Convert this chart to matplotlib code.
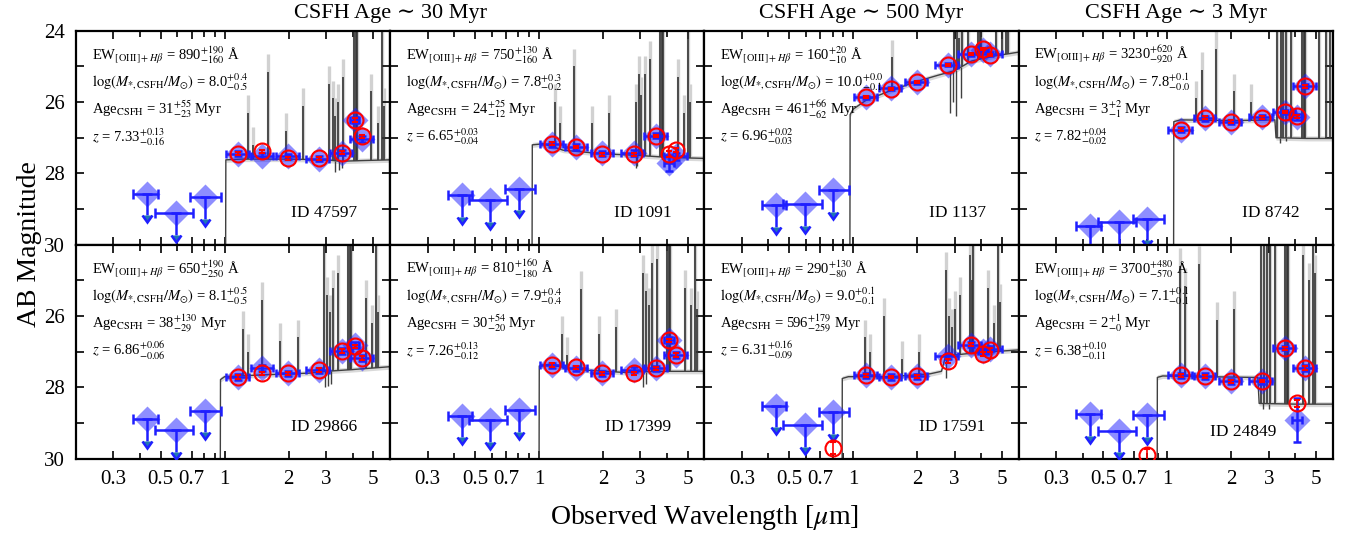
import numpy as np
import matplotlib
matplotlib.use('Agg')
import matplotlib.pyplot as plt
from matplotlib.ticker import FixedLocator, FixedFormatter, MultipleLocator, FuncFormatter

plt.rcParams['font.family'] = ['Liberation Serif', 'DejaVu Serif']
plt.rcParams['mathtext.fontset'] = 'stix'

# --- filters: F435W F606W F814W (non-detections) + NIRCam F115W..F444W
filt_wave = [0.433, 0.592, 0.806, 1.154, 1.501, 1.990, 2.786, 3.563, 4.083, 4.421]
filt_lo = [0.372, 0.470, 0.690, 1.010, 1.330, 1.750, 2.420, 3.120, 3.870, 3.890]
filt_hi = [0.486, 0.710, 0.960, 1.300, 1.680, 2.230, 3.100, 3.980, 4.300, 4.990]
n_lim = 3

panel_ids = ['47597', '1091', '1137', '8742', '29866', '17399', '17591', '24849']
redshift = [7.33, 6.65, 6.96, 7.82, 6.86, 7.26, 6.31, 6.38]

ew_txt = [('890', '190', '160'), ('750', '130', '160'), ('160', '20', '10'), ('3230', '620', '920'),
          ('650', '190', '250'), ('810', '160', '180'), ('290', '130', '80'), ('3700', '480', '570')]
mass_txt = [('8.0', '0.4', '0.5'), ('7.8', '0.3', '0.2'), ('10.0', '0.0', '0.1'), ('7.8', '0.1', '0.0'),
            ('8.1', '0.5', '0.5'), ('7.9', '0.4', '0.4'), ('9.0', '0.1', '0.1'), ('7.1', '0.1', '0.1')]
age_txt = [('31', '55', '23'), ('24', '25', '12'), ('461', '66', '62'), ('3', '2', '1'),
           ('38', '130', '29'), ('30', '54', '20'), ('596', '179', '259'), ('2', '1', '0')]
z_txt = [('7.33', '0.13', '0.16'), ('6.65', '0.03', '0.04'), ('6.96', '0.02', '0.03'), ('7.82', '0.04', '0.02'),
         ('6.86', '0.06', '0.06'), ('7.26', '0.13', '0.12'), ('6.31', '0.16', '0.09'), ('6.38', '0.10', '0.11')]

titles = ['CSFH Age \u223c 30 Myr', 'CSFH Age \u223c 500 Myr', 'CSFH Age \u223c 3 Myr']

# observed photometry (AB mag); first three are upper limits
obs_mag = [
    [28.57, 29.12, 28.67, 27.45, 27.50, 27.52, 27.59, 27.42, 26.51, 27.03],
    [28.62, 28.76, 28.43, 27.19, 27.26, 27.43, 27.43, 26.95, 27.71, 27.52],
    [28.90, 28.87, 28.48, 25.87, 25.62, 25.45, 24.95, 24.66, 24.54, 24.66],
    [29.47, 29.37, 29.28, 26.77, 26.46, 26.56, 26.42, 26.28, 26.42, 25.56],
    [28.89, 29.20, 28.66, 27.71, 27.46, 27.61, 27.52, 26.98, 26.82, 27.17],
    [28.80, 28.92, 28.64, 27.38, 27.46, 27.61, 27.50, 27.47, 26.68, 27.10],
    [28.52, 29.06, 28.70, 27.66, 27.71, 27.69, 27.12, 26.80, 26.99, 26.92],
    [28.75, 29.22, 28.78, 27.66, 27.69, 27.83, 27.82, 26.90, 28.92, 27.46],
]
obs_err = [
    [0.07, 0.08, 0.07, 0.07, 0.07, 0.08, 0.08],
    [0.07, 0.08, 0.07, 0.08, 0.07, 0.22, 0.10],
    [0.05, 0.05, 0.04, 0.04, 0.04, 0.05, 0.05],
    [0.06, 0.06, 0.06, 0.06, 0.06, 0.08, 0.06],
    [0.08, 0.08, 0.07, 0.07, 0.08, 0.08, 0.09],
    [0.07, 0.07, 0.07, 0.08, 0.08, 0.08, 0.09],
    [0.07, 0.08, 0.07, 0.08, 0.06, 0.08, 0.07],
    [0.07, 0.08, 0.07, 0.08, 0.06, 0.62, 0.08],
]
# model photometry (red circles); nan = off the plot
nan = np.nan
mod_mag = [
    [nan, nan, nan, 27.45, 27.38, 27.58, 27.58, 27.42, 26.50, 26.96],
    [nan, nan, nan, 27.17, 27.26, 27.47, 27.47, 26.95, 27.45, 27.34],
    [nan, nan, nan, 25.87, 25.64, 25.45, 24.95, 24.66, 24.52, 24.68],
    [nan, nan, nan, 26.77, 26.44, 26.55, 26.44, 26.28, 26.40, 25.56],
    [nan, nan, nan, 27.71, 27.61, 27.61, 27.52, 26.98, 26.85, 27.17],
    [nan, nan, nan, 27.38, 27.44, 27.61, 27.61, 27.47, 26.68, 27.10],
    [nan, nan, 29.71, 27.66, 27.71, 27.69, 27.26, 26.80, 27.06, 26.95],
    [nan, nan, 29.90, 27.66, 27.69, 27.83, 27.82, 26.90, 28.45, 27.46],
]
mod_err = [
    [0, 0, 0, 0.04, 0.04, 0.04, 0.04, 0.04, 0.05, 0.05],
    [0, 0, 0, 0.04, 0.04, 0.04, 0.04, 0.04, 0.08, 0.06],
    [0, 0, 0, 0.03, 0.03, 0.03, 0.03, 0.03, 0.03, 0.03],
    [0, 0, 0, 0.04, 0.04, 0.04, 0.04, 0.04, 0.04, 0.04],
    [0, 0, 0, 0.05, 0.05, 0.05, 0.05, 0.05, 0.05, 0.05],
    [0, 0, 0, 0.05, 0.05, 0.05, 0.05, 0.05, 0.05, 0.05],
    [0, 0, 0.17, 0.04, 0.04, 0.04, 0.05, 0.04, 0.05, 0.05],
    [0, 0, 0.17, 0.04, 0.04, 0.04, 0.04, 0.04, 0.10, 0.05],
]

# model continuum knots (observed um, AB mag)
cont_wave = [
    [0.2, 1.006, 1.013, 1.2, 2.0, 3.0, 3.5, 4.5, 6.0],
    [0.2, 0.925, 0.931, 1.05, 1.3, 2.0, 3.0, 4.0, 6.0],
    [0.2, 0.962, 0.968, 1.0, 1.15, 1.5, 2.0, 2.5, 3.0, 3.6, 4.5, 6.0],
    [0.2, 1.066, 1.072, 1.15, 2.0, 3.2, 3.24, 4.5, 6.0],
    [0.2, 0.950, 0.956, 1.0, 1.5, 2.5, 3.0, 4.0, 6.0],
    [0.2, 0.998, 1.004, 1.1, 1.5, 2.5, 3.0, 4.0, 6.0],
    [0.2, 0.884, 0.889, 0.95, 1.5, 2.3, 2.6, 2.72, 3.5, 4.5, 6.0],
    [0.2, 0.892, 0.897, 0.95, 1.5, 2.5, 2.66, 2.70, 4.0, 6.0],
]
cont_mag = [
    [35, 35, 27.62, 27.60, 27.60, 27.62, 27.66, 27.64, 27.62],
    [35, 35, 27.20, 27.17, 27.35, 27.45, 27.50, 27.55, 27.58],
    [35, 35, 26.35, 26.20, 25.95, 25.68, 25.42, 25.25, 25.12, 24.85, 24.72, 24.60],
    [35, 35, 26.55, 26.50, 26.52, 26.50, 27.00, 27.02, 27.02],
    [35, 35, 27.78, 27.70, 27.65, 27.60, 27.55, 27.50, 27.42],
    [35, 35, 27.40, 27.36, 27.50, 27.58, 27.56, 27.55, 27.55],
    [35, 35, 27.75, 27.70, 27.70, 27.62, 27.55, 27.12, 27.05, 27.00, 26.95],
    [35, 35, 27.72, 27.68, 27.70, 27.72, 27.72, 28.45, 28.47, 28.47],
]

# emission lines: rest wavelength (um) and peak mag in each panel
line_rest = [0.1549, 0.1640, 0.1909, 0.2326, 0.2800, 0.3727, 0.3869, 0.3968, 0.4102,
             0.4340, 0.4861, 0.4959, 0.5007, 0.5876, 0.6300, 0.6563, 0.6716]
line_peak = [
    [26.3, 27.2, 25.15, 26.8, 26.1, 25.5, 25.9, 26.4, 26.0, 25.3, 23, 23.5, 23, 25.7, 26.6, 23, 26.1],
    [26.0, 26.6, 25.0, 26.6, 26.3, 26.0, 25.2, 25.8, 25.2, 24.8, 23, 23.5, 23, 25.3, 26.3, 23, 26.0],
    [nan, nan, 24.75, nan, nan, 23.5, 23.8, 24.2, 23.8, 23.5, 23, 23, 23, 23.5, 24.0, 23, 23.5],
    [25.9, 25.1, 24.5, 25.7, 26.0, 23, 23.5, 23.8, 23.6, 23.3, 23, 23, 23, 23.5, 24.0, 23, nan],
    [26.35, 27.0, 25.55, 26.7, 26.6, 24.0, 25.4, 25.9, 25.2, 24.8, 23, 23.5, 23, 25.5, 26.2, 23, 25.9],
    [26.5, 27.1, 25.25, 26.5, 26.3, 24.8, 25.3, 25.7, 24.5, 24.4, 23, 23.5, 23, 25.2, 25.7, 23, 25.8],
    [26.6, 27.0, 26.0, 27.2, 27.0, 24.7, 26.0, 26.3, 25.8, 25.4, 24.3, 25.0, 23.5, 25.2, 26.2, 23.6, 25.6],
    [24.6, 25.15, 24.55, 26.1, 25.8, 23, 23.5, 24.0, 23.7, 23.5, 23, 23, 23, 24.3, 25.0, 23, 24.8],
]
# absorption-like dips in the model spectra
dip_wave = [[3.30, 3.45, 3.55], [2.85, 2.90], [2.85, 2.95, 3.05, 3.20], [3.40, 3.60],
            [2.95, 3.05, 3.15], [3.10, 3.20], [2.74], [2.80, 3.00]]
dip_mag = [[27.95, 27.90, 27.85], [27.85, 27.80], [26.3, 26.0, 26.4, 25.9], [27.15, 27.1],
           [28.0, 27.95, 27.9], [28.0, 27.9], [27.75], [28.6, 28.6]]

id_pos = [(0.895, 0.15)] * 7 + [(0.82, 0.126)]

fig, axes = plt.subplots(2, 4, figsize=(13.49, 5.36), dpi=100)
fig.subplots_adjust(left=0.0563, right=0.9881, top=0.9427, bottom=0.1442, wspace=0, hspace=0)

fw = np.array(filt_wave)
xerr = np.array([fw - np.array(filt_lo), np.array(filt_hi) - fw])
blue = '#1f1fff'

for i, ax in enumerate(axes.flat):
    ax.set_xscale('log')
    ax.set_xlim(0.2, 6.0)
    ax.set_ylim(30, 24)

    # model spectrum
    cw = np.array(cont_wave[i])
    cm = np.array(cont_mag[i])
    ax.fill_between(cw, cm - 0.07, cm + 0.07, color='0.85', lw=0, zorder=1)
    lw_obs = np.array(line_rest) * (1 + redshift[i])
    pk = np.array(line_peak[i], float)
    ok = np.isfinite(pk)
    base = np.interp(np.log10(lw_obs), np.log10(cw), cm)
    ax.vlines(lw_obs[ok], base[ok], pk[ok] - 0.5, color='0.82', lw=2.4, zorder=1)
    ax.vlines(lw_obs[ok], base[ok], pk[ok], color='0.2', lw=1.2, zorder=2)
    if dip_wave[i]:
        dw = np.array(dip_wave[i])
        dbase = np.interp(np.log10(dw), np.log10(cw), cm)
        ax.vlines(dw, dbase, dip_mag[i], color='0.25', lw=1.0, zorder=2)
    ax.plot(cw, cm, color='0.25', lw=1.0, zorder=2)

    # observed photometry
    om = np.array(obs_mag[i])
    ax.plot(fw, om, 'D', color=blue, alpha=0.5, ms=13, mec='none', zorder=3)
    ax.errorbar(fw[:n_lim], om[:n_lim], xerr=xerr[:, :n_lim], yerr=0.6, lolims=True,
                fmt='none', ecolor=blue, elinewidth=1.8, capsize=3.5, capthick=1.8, zorder=4)
    ax.errorbar(fw[n_lim:], om[n_lim:], xerr=xerr[:, n_lim:], yerr=obs_err[i],
                fmt='none', ecolor=blue, elinewidth=1.8, capsize=3, capthick=1.8, zorder=4)
    # model photometry
    ax.errorbar(fw, mod_mag[i], yerr=mod_err[i], fmt='o', mfc='none', mec='red',
                ecolor='red', ms=11.5, mew=1.5, elinewidth=1.2, capsize=2.5, zorder=5)

    # annotations
    e, m, a, zz = ew_txt[i], mass_txt[i], age_txt[i], z_txt[i]
    lines = [r'EW$_{[\mathrm{OIII}]+H\beta}$ = %s$^{+%s}_{-%s}$ Å' % e,
             r'$\log(M_{*,\mathrm{CSFH}}/M_{\odot})$ = %s$^{+%s}_{-%s}$' % m,
             r'Age$_{\mathrm{CSFH}}$ = %s$^{+%s}_{-%s}$ Myr' % a,
             r'$z$ = %s$^{+%s}_{-%s}$' % zz]
    for k, s in enumerate(lines):
        ax.text(0.05, 0.886 - 0.127 * k, s, transform=ax.transAxes, fontsize=10.5,
                va='center', ha='left', zorder=6)
    ax.text(id_pos[i][0], id_pos[i][1], 'ID ' + panel_ids[i], transform=ax.transAxes,
            fontsize=12.5, ha='right', va='center', zorder=6)

    # ticks
    ax.xaxis.set_major_locator(FixedLocator([0.3, 0.5, 0.7, 1, 2, 3, 5]))
    ax.xaxis.set_major_formatter(FixedFormatter(['0.3', '0.5', '0.7', '1', '2', '3', '5']))
    ax.xaxis.set_minor_locator(FixedLocator([0.4, 0.6, 0.8, 0.9, 4]))
    ax.xaxis.set_minor_formatter(FuncFormatter(lambda v, p: ''))
    ax.yaxis.set_major_locator(MultipleLocator(1))
    row = i // 4
    if row == 0:
        ax.yaxis.set_major_formatter(FuncFormatter(lambda v, p: '%d' % v if int(round(v)) % 2 == 0 else ''))
    else:
        ax.yaxis.set_major_formatter(FuncFormatter(lambda v, p: '%d' % v if int(round(v)) % 2 == 0 and v > 24.5 else ''))
    ax.tick_params(which='both', direction='in', top=True, right=True, labelsize=15, width=1.2, pad=8)
    ax.tick_params(which='major', length=6)
    ax.tick_params(which='minor', length=4)
    ax.tick_params(axis='x', labelbottom=(row == 1))
    ax.tick_params(axis='y', labelleft=(i % 4 == 0))
    for sp in ax.spines.values():
        sp.set_linewidth(1.6)

# column titles
x0 = axes[0, 0].get_position().x0
x1 = axes[0, 1].get_position().x1
fig.text((x0 + x1) / 2, 0.975, titles[0], ha='center', va='center', fontsize=16)
p = axes[0, 2].get_position()
fig.text((p.x0 + p.x1) / 2, 0.975, titles[1], ha='center', va='center', fontsize=16)
p = axes[0, 3].get_position()
fig.text((p.x0 + p.x1) / 2, 0.975, titles[2], ha='center', va='center', fontsize=16)

fig.text(0.0215, 0.545, 'AB Magnitude', rotation=90, ha='center', va='center', fontsize=20)
fig.text(0.522, 0.035, r'Observed Wavelength [$\mu$m]', ha='center', va='center', fontsize=20)

fig.savefig('out.png', dpi=100)
